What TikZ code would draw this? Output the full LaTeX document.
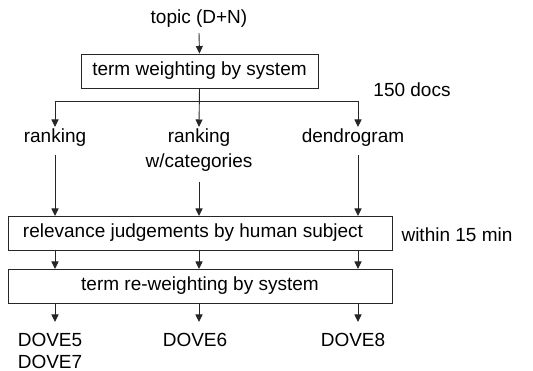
\documentclass[tikz,border=0pt]{standalone}
\usepackage{fontspec}
\setmainfont{Liberation Sans}
\usetikzlibrary{arrows.meta}
\begin{document}
\begin{tikzpicture}[x=1pt,y=-1pt,
  every node/.style={font=\fontsize{19}{22.5}\selectfont, inner sep=0pt},
  boxnode/.style={draw=black!85, line width=0.9pt, minimum height=34pt},
  conn/.style={draw=black!85, line width=0.9pt},
  arr/.style={conn, -{Triangle[width=7pt,length=7.5pt]}}]
\useasboundingbox (0,0) rectangle (533,371);
% nodes
\node (topic) at (199,19) {topic (D+N)};
\node[boxnode, minimum width=237pt] (tw) at (199.5,71) {term weighting by system};
\node (docs) at (412,90) {150 docs};
\node (rank) at (55,138) {ranking};
\node[align=center, font=\fontsize{19}{25}\selectfont] (rankc) at (199,150.5) {ranking\\w/categories};
\node (dendro) at (353,138) {dendrogram};
\node[boxnode, minimum width=384pt] (rel) at (200,233) {};
\node (reltext) at (193,233) {relevance judgements by human subject};
\node (within) at (457,235) {within 15 min};
\node[boxnode, minimum width=384pt] (rw) at (200,286) {term re-weighting by system};
\node (d5) at (50,340) {DOVE5};
\node (d7) at (50,362) {DOVE7};
\node (d6) at (195,340) {DOVE6};
\node (d8) at (353,340) {DOVE8};
% coordinates
\coordinate (bl) at (55,101);
\coordinate (br) at (358,101);
\coordinate (al) at (55,127);
\coordinate (ar) at (358,127);
% connectors
\draw[arr] (199,33) -- (tw.north);
\draw[arr] (tw.south) -- (199,127);
\draw[conn] (bl) -- (br);
\draw[arr] (bl) -- (al);
\draw[arr] (br) -- (ar);
\draw[arr] (55,155) -- (55,216);
\draw[arr] (199,182) -- (199,216);
\draw[arr] (358,155) -- (358,216);
\draw[arr] (55,250) -- (55,269);
\draw[arr] (199,250) -- (199,269);
\draw[arr] (358,250) -- (358,269);
\draw[arr] (55,303) -- (55,322);
\draw[arr] (199,303) -- (199,322);
\draw[arr] (358,303) -- (358,322);
\end{tikzpicture}
\end{document}
